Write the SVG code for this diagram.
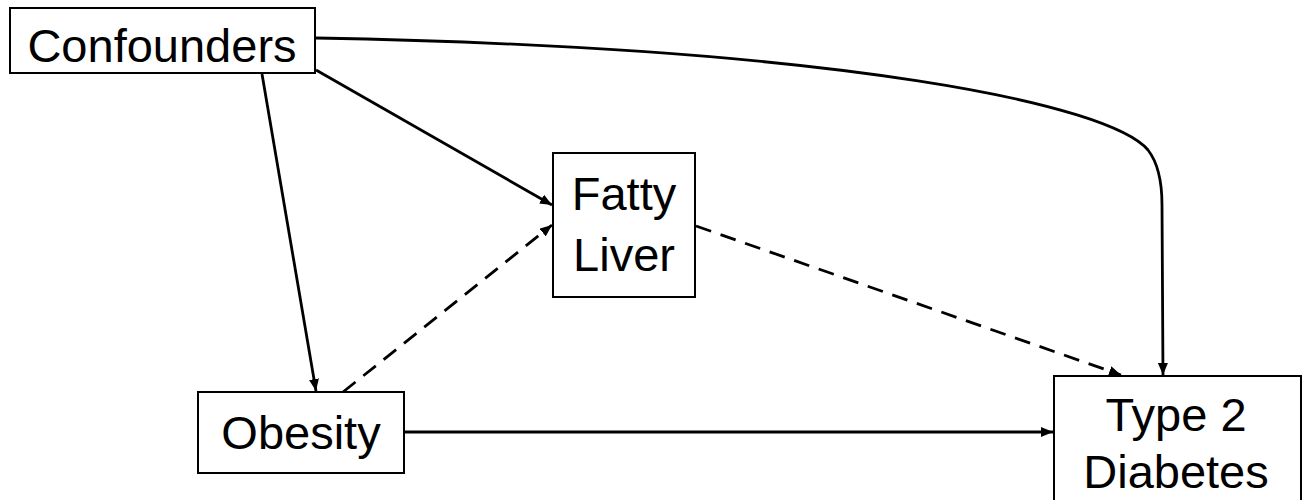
<svg xmlns="http://www.w3.org/2000/svg" width="1309" height="500" viewBox="0 0 1309 500">
<style>
.box{fill:#fff;stroke:#000;stroke-width:2}
.lbl{font-family:"Liberation Sans",Arial,sans-serif;font-size:47px;fill:#000;text-anchor:middle}
.e{fill:none;stroke:#000;stroke-width:2.8}
.d{stroke-dasharray:16 10}
</style>
<defs>
<marker id="ah" viewBox="0 0 12 10" refX="12" refY="5" markerWidth="12" markerHeight="10" markerUnits="userSpaceOnUse" orient="auto">
<path d="M0,0 L12,5 L0,10 z" fill="#000"/>
</marker>
</defs>
<rect width="1309" height="500" fill="#fff"/>
<g id="connectors">
<path class="e" d="M262,74 L316,391" marker-end="url(#ah)"/>
<path class="e" d="M316,70 L552,205" marker-end="url(#ah)"/>
<path class="e" d="M316,38 C850,48 1110,105 1148,150 Q1162,168 1162,205 L1163,375" marker-end="url(#ah)"/>
<path class="e d" d="M343,392 L552,225" marker-end="url(#ah)"/>
<path class="e d" d="M696,226 L1121,375" marker-end="url(#ah)"/>
<path class="e" d="M405,432 L1053,432" marker-end="url(#ah)"/>
</g>
<g id="confounders">
<rect class="box" x="10" y="8" width="305" height="65"/>
<text class="lbl" x="162" y="62">Confounders</text>
</g>
<g id="fatty-liver">
<rect class="box" x="553" y="153" width="142" height="144"/>
<text class="lbl" x="624" y="210">Fatty</text>
<text class="lbl" x="624" y="271">Liver</text>
</g>
<g id="obesity">
<rect class="box" x="198" y="392" width="206" height="81"/>
<text class="lbl" x="301" y="449">Obesity</text>
</g>
<g id="type2">
<rect class="box" x="1054" y="376" width="247" height="140"/>
<text class="lbl" x="1176" y="431">Type 2</text>
<text class="lbl" x="1176" y="488">Diabetes</text>
</g>
</svg>
